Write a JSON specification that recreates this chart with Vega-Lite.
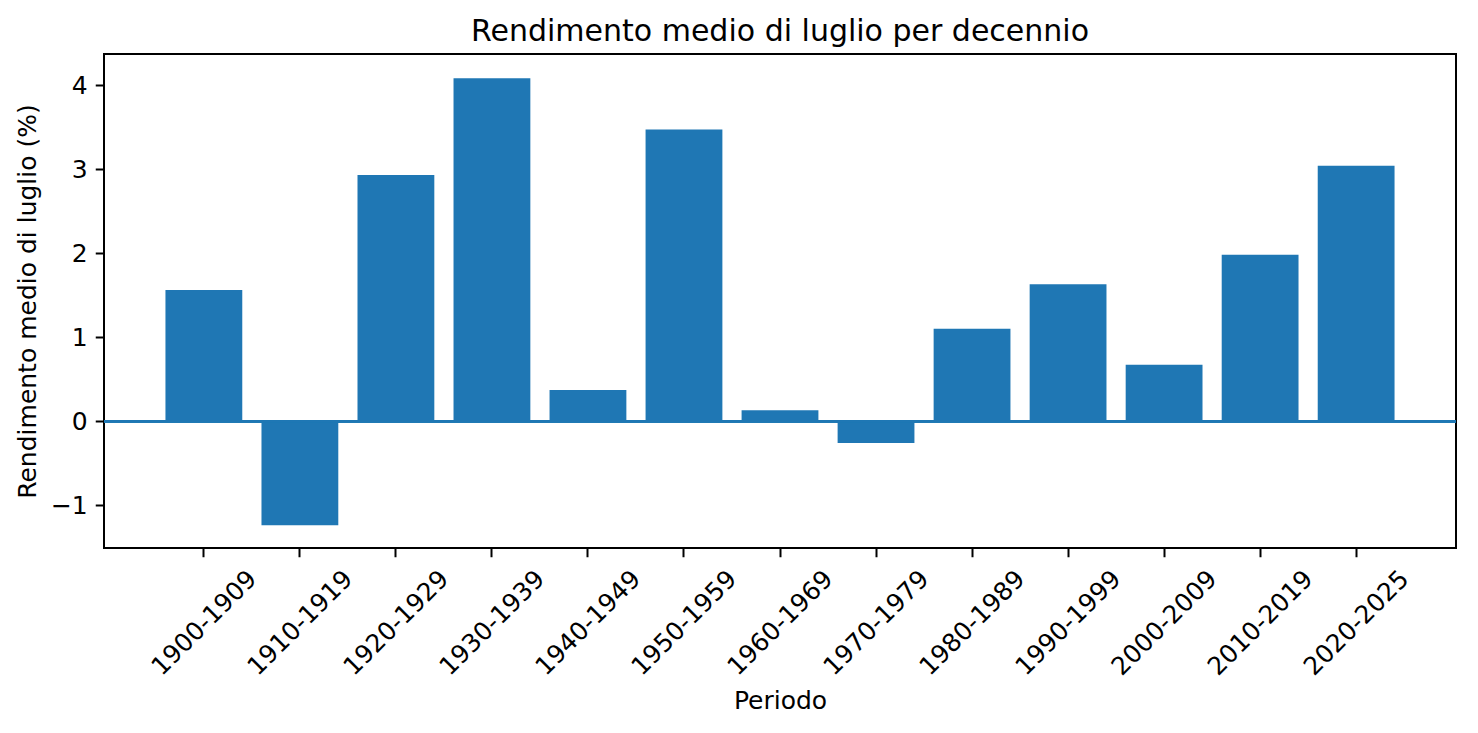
{
  "$schema": "https://vega.github.io/schema/vega-lite/v6.json",
  "autosize": "none",
  "width": 1352,
  "height": 494,
  "padding": {"left": 104, "top": 54, "right": 22, "bottom": 185},
  "background": "white",
  "config": {
    "font": "DejaVu Sans",
    "view": {"stroke": "black", "strokeWidth": 2},
    "axis": {
      "labelFont": "DejaVu Sans",
      "titleFont": "DejaVu Sans",
      "labelFontSize": 25,
      "titleFontSize": 25,
      "titleFontWeight": "normal",
      "labelColor": "black",
      "titleColor": "black",
      "tickColor": "black",
      "domainColor": "black",
      "tickSize": 8.75,
      "tickWidth": 2,
      "domain": false,
      "grid": false
    }
  },
  "title": {
    "text": "Rendimento medio di luglio per decennio",
    "font": "DejaVu Sans",
    "fontSize": 30,
    "fontWeight": "normal",
    "color": "black",
    "anchor": "middle",
    "offset": 7
  },
  "data": {
    "values": [
      {"periodo": "1900-1909", "rendimento": 1.56},
      {"periodo": "1910-1919", "rendimento": -1.24},
      {"periodo": "1920-1929", "rendimento": 2.93},
      {"periodo": "1930-1939", "rendimento": 4.08},
      {"periodo": "1940-1949", "rendimento": 0.37},
      {"periodo": "1950-1959", "rendimento": 3.47},
      {"periodo": "1960-1969", "rendimento": 0.13},
      {"periodo": "1970-1979", "rendimento": -0.26},
      {"periodo": "1980-1989", "rendimento": 1.10},
      {"periodo": "1990-1999", "rendimento": 1.63},
      {"periodo": "2000-2009", "rendimento": 0.67},
      {"periodo": "2010-2019", "rendimento": 1.98},
      {"periodo": "2020-2025", "rendimento": 3.04}
    ]
  },
  "layer": [
    {
      "mark": {"type": "bar", "color": "#1f77b4"},
      "encoding": {
        "x": {
          "field": "periodo",
          "type": "nominal",
          "sort": null,
          "scale": {"paddingInner": 0.2, "paddingOuter": 0.64},
          "axis": {
            "title": "Periodo",
            "labelAngle": -45,
            "labelAlign": "right",
            "labelBaseline": "top",
            "labelPadding": 9,
            "labelOffset": 40,
            "titlePadding": 9
          }
        },
        "y": {
          "field": "rendimento",
          "type": "quantitative",
          "scale": {"domain": [-1.51, 4.37], "nice": false, "zero": false},
          "axis": {
            "title": "Rendimento medio di luglio (%)",
            "values": [-1, 0, 1, 2, 3, 4],
            "format": "d",
            "labelPadding": 8,
            "titlePadding": 10
          }
        }
      }
    },
    {
      "mark": {"type": "rule", "color": "#1f77b4", "strokeWidth": 2},
      "encoding": {
        "y": {"datum": 0, "type": "quantitative"}
      }
    }
  ]
}
